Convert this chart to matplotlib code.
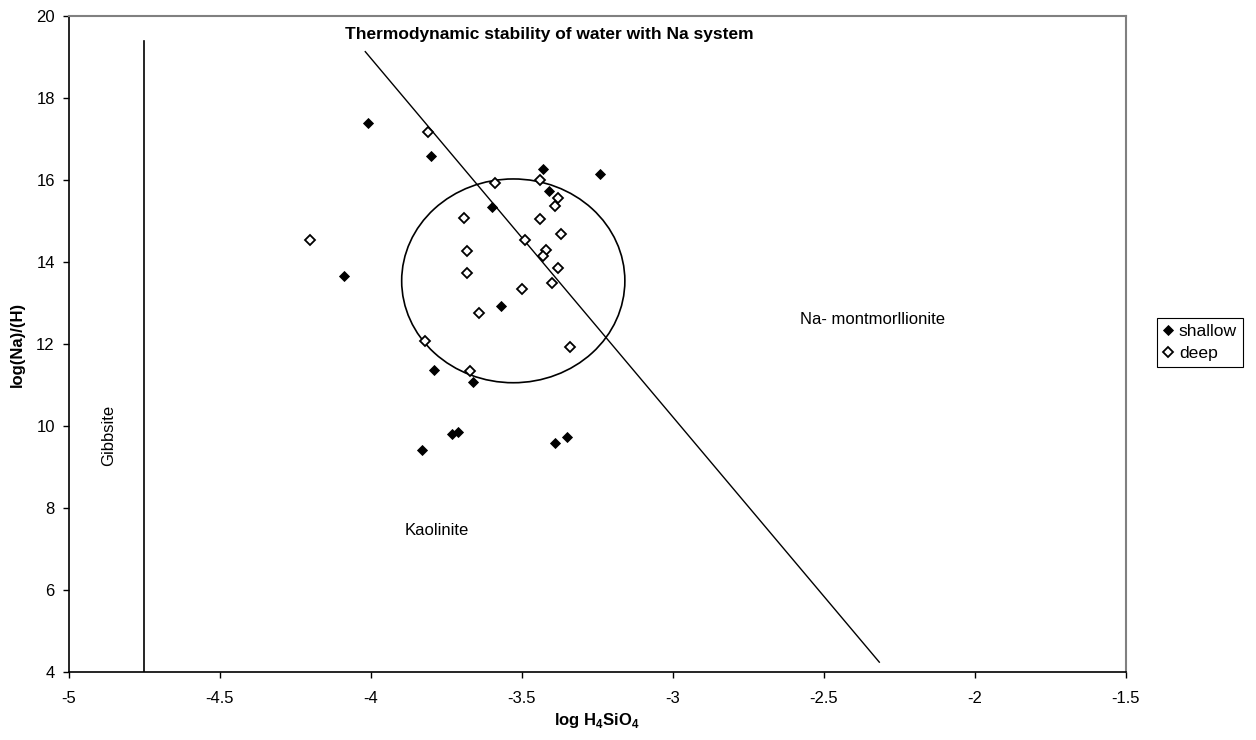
import matplotlib
matplotlib.use("Agg")
import matplotlib.pyplot as plt
from matplotlib.patches import Ellipse

plt.rcParams["font.family"] = ["Liberation Sans", "DejaVu Sans"]
plt.rcParams["mathtext.fontset"] = "custom"
plt.rcParams["mathtext.rm"] = "Liberation Sans"
plt.rcParams["mathtext.bf"] = "Liberation Sans:bold"

# Sample data: log H4SiO4 vs log(Na)/(H)
shallow_x = [-4.01, -3.80, -4.09, -3.43, -3.24, -3.41, -3.60, -3.57, -3.66,
             -3.79, -3.83, -3.73, -3.71, -3.39, -3.35]
shallow_y = [17.38, 16.59, 13.65, 16.27, 16.15, 15.74, 15.34, 12.92, 11.07,
             11.36, 9.41, 9.80, 9.86, 9.58, 9.73]

deep_x = [-4.20, -3.81, -3.59, -3.44, -3.38, -3.39, -3.69, -3.44, -3.37,
          -3.49, -3.68, -3.42, -3.43, -3.68, -3.38, -3.40, -3.50, -3.64,
          -3.34, -3.82, -3.67]
deep_y = [14.53, 17.16, 15.93, 16.00, 15.56, 15.36, 15.07, 15.06, 14.69,
          14.53, 14.27, 14.29, 14.15, 13.72, 13.85, 13.49, 13.35, 12.76,
          11.93, 12.08, 11.34]

# Stability field boundaries
gibbsite_x = [-4.75, -4.75]
gibbsite_y = [4.0, 19.38]
kaol_mont_x = [-4.018, -2.316]
kaol_mont_y = [19.13, 4.24]

# Cluster outline (centre x, centre y, width, height)
cluster_center = (-3.528, 13.54)
cluster_width = 0.739
cluster_height = 4.97

x_ticks = [-5, -4.5, -4, -3.5, -3, -2.5, -2, -1.5]
x_tick_labels = ["-5", "-4.5", "-4", "-3.5", "-3", "-2.5", "-2", "-1.5"]
y_ticks = [4, 6, 8, 10, 12, 14, 16, 18, 20]

FS = 12

fig = plt.figure(figsize=(12.56, 7.40), dpi=100)
ax = fig.add_axes([0.0547, 0.0919, 0.8416, 0.8865])

ax.plot(gibbsite_x, gibbsite_y, color="black", lw=1.2)
ax.plot(kaol_mont_x, kaol_mont_y, color="black", lw=1.0)
ax.add_patch(Ellipse(cluster_center, cluster_width, cluster_height,
                     fill=False, edgecolor="black", lw=1.2))

ax.plot(shallow_x, shallow_y, linestyle="none", marker="D", ms=5.2,
        mfc="black", mec="black", mew=0.6, label="shallow", zorder=3)
ax.plot(deep_x, deep_y, linestyle="none", marker="D", ms=4.6,
        mfc="white", mec="black", mew=1.3, label="deep", zorder=3)

ax.set_xlim(-5, -1.5)
ax.set_ylim(4, 20)
ax.set_xticks(x_ticks)
ax.set_xticklabels(x_tick_labels)
ax.set_yticks(y_ticks)
ax.tick_params(axis="both", direction="out", length=4, width=1.0,
               labelsize=FS, colors="black")
ax.tick_params(axis="x", pad=10)
ax.tick_params(axis="y", pad=6)

for side in ("left", "bottom"):
    ax.spines[side].set_color("black")
    ax.spines[side].set_linewidth(1.2)
for side in ("top", "right"):
    ax.spines[side].set_color("#808080")
    ax.spines[side].set_linewidth(1.5)

ax.set_xlabel(r"log H$_\mathbf{4}$SiO$_\mathbf{4}$", fontsize=FS,
              fontweight="bold", labelpad=3)
ax.set_ylabel("log(Na)/(H)", fontsize=FS, fontweight="bold", labelpad=8)

ax.text(-3.41, 19.54, "Thermodynamic stability of water with Na system",
        fontsize=12.5, fontweight="bold", ha="center", va="center")
ax.text(-4.869, 9.78, "Gibbsite", fontsize=FS, rotation=90,
        ha="center", va="center")
ax.text(-3.78, 7.46, "Kaolinite", fontsize=FS, ha="center", va="center")
ax.text(-2.34, 12.59, "Na- montmorllionite", fontsize=FS,
        ha="center", va="center")

leg = fig.legend(loc="upper left", bbox_to_anchor=(1157 / 1256, 1 - 317.7 / 740),
                 bbox_transform=fig.transFigure, fontsize=12.6,
                 frameon=True, fancybox=False, framealpha=1,
                 edgecolor="black", handlelength=0.6, handletextpad=0.3,
                 borderpad=0.35, labelspacing=0.4, borderaxespad=0)
leg.get_frame().set_linewidth(0.8)

fig.savefig("out.png", dpi=100)
